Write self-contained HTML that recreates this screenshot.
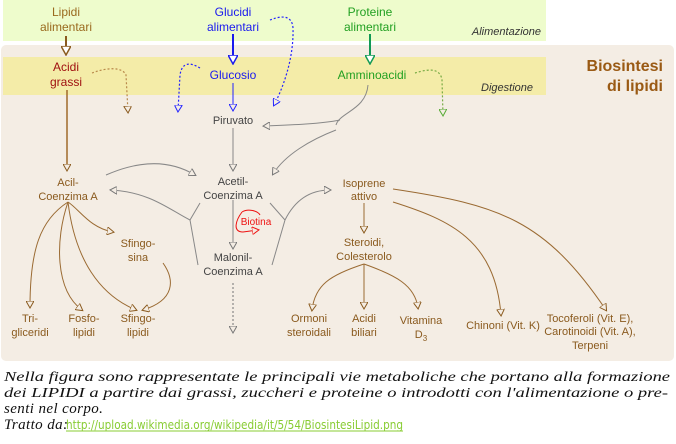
<!DOCTYPE html>
<html><head><meta charset="utf-8"><style>
body{margin:0;width:676px;height:444px;background:#fff;overflow:hidden;position:relative;font-family:"Liberation Sans",sans-serif}
svg{position:absolute;left:0;top:0}
</style></head><body>
<svg width="676" height="444" viewBox="0 0 676 444" font-family="Liberation Sans, sans-serif" font-size="11">
<defs>
<marker id="ab" markerWidth="8" markerHeight="8" refX="6" refY="4" orient="auto" markerUnits="userSpaceOnUse"><path d="M0,0 L7,4 L0,8 Z" fill="#f4ede4" stroke="#8a5a1e" stroke-width="1"/></marker>
<marker id="ag" markerWidth="8" markerHeight="8" refX="6" refY="4" orient="auto" markerUnits="userSpaceOnUse"><path d="M0,0 L7,4 L0,8 Z" fill="#f4ede4" stroke="#777" stroke-width="1"/></marker>
<marker id="abl" markerWidth="8" markerHeight="8" refX="6" refY="4" orient="auto" markerUnits="userSpaceOnUse"><path d="M0,0 L7,4 L0,8 Z" fill="#f4ede4" stroke="#22f" stroke-width="1"/></marker>
<marker id="agr" markerWidth="8" markerHeight="8" refX="6" refY="4" orient="auto" markerUnits="userSpaceOnUse"><path d="M0,0 L7,4 L0,8 Z" fill="#f4ede4" stroke="#5a3" stroke-width="1"/></marker>
<marker id="ar" markerWidth="8" markerHeight="8" refX="6" refY="4" orient="auto" markerUnits="userSpaceOnUse"><path d="M0,0 L7,4 L0,8 Z" fill="#f4ede4" stroke="#e11" stroke-width="1"/></marker>
<marker id="big" markerWidth="10" markerHeight="10" refX="8" refY="5" orient="auto" markerUnits="userSpaceOnUse"><path d="M0,0 L9,5 L0,10 Z" fill="#fff" stroke="context-stroke" stroke-width="1.5"/></marker>
</defs>
<rect x="3" y="0" width="543" height="41" fill="#eefccc"/>
<rect x="1" y="45" width="673" height="316" rx="5" fill="#f4ede4"/>
<rect x="3" y="57" width="543" height="38" fill="#f4eca8"/>
<g text-anchor="middle">
<text x="66" y="16" fill="#9a6a1e" font-size="12">Lipidi</text><text x="66" y="31" fill="#9a6a1e" font-size="12">alimentari</text>
<text x="233" y="16" fill="#1a1aee" font-size="12">Glucidi</text><text x="233" y="31" fill="#1a1aee" font-size="12">alimentari</text>
<text x="370" y="16" fill="#22a022" font-size="12">Proteine</text><text x="370" y="31" fill="#22a022" font-size="12">alimentari</text>
<text x="66" y="71" fill="#a01010" font-size="12">Acidi</text><text x="66" y="86" fill="#a01010" font-size="12">grassi</text>
<text x="233" y="79" fill="#1a1aee" font-size="12">Glucosio</text>
<text x="372" y="79" fill="#22a022" font-size="12">Amminoacidi</text>
</g>
<text x="541" y="35" text-anchor="end" font-style="italic" fill="#333" font-size="11">Alimentazione</text>
<text x="533" y="91" text-anchor="end" font-style="italic" fill="#333" font-size="11">Digestione</text>
<text x="663" y="71" text-anchor="end" font-weight="bold" fill="#9a5a14" font-size="16">Biosintesi</text>
<text x="663" y="91" text-anchor="end" font-weight="bold" fill="#9a5a14" font-size="16">di lipidi</text>
<g stroke-width="2" fill="none">
<line x1="66" y1="36" x2="66" y2="54" stroke="#8a5a1e" marker-end="url(#big)"/>
<line x1="233" y1="34" x2="233" y2="63" stroke="#1a1aee" marker-end="url(#big)"/>
<line x1="370" y1="34" x2="370" y2="63" stroke="#119955" marker-end="url(#big)"/>
</g>
<g fill="none" stroke-dasharray="2,2" stroke-width="1.2">
<path d="M92,73 C105,68 122,66 126,75 L128,112" stroke="#b8884a" marker-end="url(#ab)"/>
<path d="M200,68 C190,62 182,62 180,75 L178,111" stroke="#22f" marker-end="url(#abl)"/>
<path d="M270,20 C280,16 292,14 293,28 C294,60 282,90 274,105" stroke="#22f" marker-end="url(#abl)"/>
<path d="M415,73 C425,70 440,66 442,80 L443,115" stroke="#7a4" marker-end="url(#agr)"/>
<line x1="233" y1="283" x2="233" y2="332" stroke="#888" marker-end="url(#ag)"/>
</g>
<g fill="none" stroke="#888" stroke-width="1">
<line x1="233" y1="83" x2="233" y2="110" stroke="#22f" marker-end="url(#abl)"/>
<line x1="233" y1="128" x2="233" y2="170" marker-end="url(#ag)"/>
<line x1="233" y1="200" x2="233" y2="248" marker-end="url(#ag)"/>
<path d="M340,120 C320,124 290,125 264,126" marker-end="url(#ag)"/>
<path d="M368,85 C366,110 340,112 336,125" />
<path d="M336,130 C310,140 285,155 273,174" marker-end="url(#ag)"/>
<path d="M106,175 C140,160 170,160 195,175" marker-end="url(#ag)"/>
<path d="M198,265 L190,220 L200,203"/>
<path d="M190,220 C170,210 150,192 111,190" marker-end="url(#ag)"/>
<path d="M272,265 L285,220 L270,203"/>
<path d="M285,220 C295,200 310,190 330,190" marker-end="url(#ag)"/>
</g>
<path d="M242,212 C236,220 232,232 243,232 L258,230" fill="none" stroke="#e11" stroke-width="1" marker-end="url(#ar)"/>
<path d="M242,212 C248,208 258,211 260,215" fill="none" stroke="#e11" stroke-width="1"/>
<text x="256" y="225" text-anchor="middle" fill="#e11" font-size="10">Biotina</text>
<g fill="none" stroke="#9a6a32" stroke-width="1">
<line x1="67" y1="90" x2="67" y2="170" stroke="#a06a2a" stroke-width="1.5" marker-end="url(#ab)"/>
<path d="M68,202 C40,220 30,250 30,307" marker-end="url(#ab)"/>
<path d="M68,202 C55,240 55,290 82,310" marker-end="url(#ab)"/>
<path d="M68,202 C75,260 100,295 136,310" marker-end="url(#ab)"/>
<path d="M68,202 C80,210 90,228 113,232" marker-end="url(#ab)"/>
<path d="M163,263 C175,280 175,300 143,310" marker-end="url(#ab)"/>
<line x1="364" y1="203" x2="364" y2="232" marker-end="url(#ab)"/>
<path d="M364,264 C330,275 315,285 312,310" marker-end="url(#ab)"/>
<line x1="364" y1="264" x2="364" y2="308" marker-end="url(#ab)"/>
<path d="M364,264 C395,275 415,285 418,308" marker-end="url(#ab)"/>
<path d="M393,202 C450,220 495,240 501,315" marker-end="url(#ab)"/>
<path d="M393,189 C500,205 545,220 606,310" marker-end="url(#ab)"/>
</g>
<g text-anchor="middle" fill="#444">
<text x="233" y="124">Piruvato</text>
<text x="233" y="185">Acetil-</text><text x="233" y="199">Coenzima A</text>
<text x="233" y="261">Malonil-</text><text x="233" y="275">Coenzima A</text>
</g>
<g text-anchor="middle" fill="#8a5a1e">
<text x="68" y="186">Acil-</text><text x="68" y="200">Coenzima A</text>
<text x="138" y="247">Sfingo-</text><text x="138" y="261">sina</text>
<text x="30" y="322">Tri-</text><text x="30" y="336">gliceridi</text>
<text x="84" y="322">Fosfo-</text><text x="84" y="336">lipidi</text>
<text x="138" y="322">Sfingo-</text><text x="138" y="336">lipidi</text>
<text x="364" y="187">Isoprene</text><text x="364" y="200">attivo</text>
<text x="364" y="246">Steroidi,</text><text x="364" y="260">Colesterolo</text>
<text x="309" y="322">Ormoni</text><text x="309" y="336">steroidali</text>
<text x="364" y="322">Acidi</text><text x="364" y="336">biliari</text>
<text x="421" y="324">Vitamina</text><text x="421" y="338">D<tspan font-size="8" dy="3">3</tspan></text>
<text x="503" y="329">Chinoni (Vit. K)</text>
<text x="590" y="322">Tocoferoli (Vit. E),</text><text x="590" y="335">Carotinoidi (Vit. A),</text><text x="590" y="349">Terpeni</text>
</g>
<g font-family="Liberation Serif, serif" font-style="italic" font-size="14" fill="#111">
<text x="4" y="381" textLength="666" lengthAdjust="spacingAndGlyphs">Nella figura sono rappresentate le principali vie metaboliche che portano alla formazione</text>
<text x="4" y="397" textLength="664" lengthAdjust="spacingAndGlyphs">dei LIPIDI a partire dai grassi, zuccheri e proteine o introdotti con l'alimentazione o pre-</text>
<text x="4" y="413" font-size="15" letter-spacing="0.4">senti nel corpo.</text>
<text x="4" y="429" font-size="15" letter-spacing="0.4">Tratto da:</text>
</g>
<text x="66" y="429" font-family="DejaVu Sans, sans-serif" font-size="12" fill="#88cc33" textLength="337" lengthAdjust="spacingAndGlyphs">http://upload.wikimedia.org/wikipedia/it/5/54/BiosintesiLipid.png</text>
<line x1="66" y1="431" x2="403" y2="431" stroke="#88cc33" stroke-width="1"/>
</svg>
</body></html>
